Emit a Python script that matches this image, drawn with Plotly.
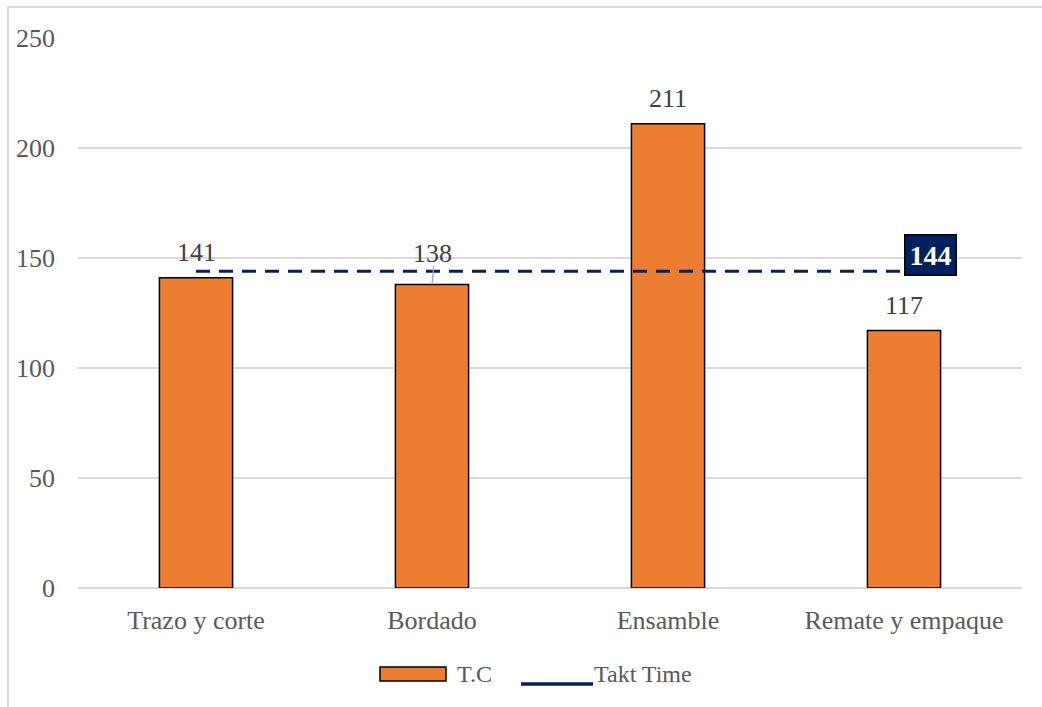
import plotly.graph_objects as go

categories = ["Trazo y corte", "Bordado", "Ensamble", "Remate y empaque"]
tc_values = [141, 138, 211, 117]
takt_value = 144
y_ticks = [0, 50, 100, 150, 200, 250]

FONT = "Liberation Serif, Times New Roman, serif"
ORANGE = "#ED7D31"
NAVY = "#002060"
GRAY_TXT = "#595959"
SIZE = 26

fig = go.Figure()

fig.add_trace(go.Bar(
    x=categories, y=tc_values, name="T.C",
    marker=dict(color=ORANGE, line=dict(color="#000000", width=1.5)),
    width=0.31, showlegend=False,
))

fig.add_trace(go.Scatter(
    x=categories, y=[takt_value] * len(categories), name="Takt Time",
    mode="lines", line=dict(color=NAVY, width=3, dash="14px,9px"), showlegend=False,
))

# value labels above each bar
for c, v in zip(categories, tc_values):
    shift = 14 if c == "Bordado" else 9
    fig.add_annotation(x=c, y=v, text=str(v), showarrow=False, yanchor="bottom",
                       yshift=shift, font=dict(family=FONT, size=SIZE, color="#404040"))
    if c == "Bordado":
        # short leader line from the moved label down to the bar
        fig.add_annotation(x=c, y=v, ax=2, ay=-20, axref="pixel", ayref="pixel",
                           showarrow=True, arrowhead=0, arrowwidth=1.2,
                           arrowcolor="#a6a6a6", text="", standoff=0)

# takt time label box at the end of the line
fig.add_annotation(x=categories[-1], y=takt_value, text="<b>144</b>", showarrow=False,
                   xanchor="left", yanchor="middle", xshift=0, yshift=16,
                   bgcolor=NAVY, bordercolor="#000000", borderwidth=1.5, borderpad=4,
                   font=dict(family=FONT, size=28, color="#ffffff"))

# outer chart border
fig.add_shape(type="rect", xref="paper", yref="paper",
              x0=-0.0742, x1=1.1, y0=-0.3, y1=1.0564,
              line=dict(color="#d9d9d9", width=2), fillcolor="rgba(0,0,0,0)",
              layer="below")

# legend drawn below the plot
fig.add_shape(type="rect", xref="paper", yref="paper",
              x0=0.3199, x1=0.3898, y0=-0.1691, y1=-0.1436,
              fillcolor=ORANGE, line=dict(color="#000000", width=1.5))
fig.add_annotation(xref="paper", yref="paper", x=0.3994, y=-0.1564, text="T.C",
                   showarrow=False, xanchor="left", yanchor="middle",
                   font=dict(family=FONT, size=24, color=GRAY_TXT))
fig.add_shape(type="line", xref="paper", yref="paper",
              x0=0.4693, x1=0.5456, y0=-0.1745, y1=-0.1745,
              line=dict(color=NAVY, width=3.5))
fig.add_annotation(xref="paper", yref="paper", x=0.5446, y=-0.1564, text="Takt Time",
                   showarrow=False, xanchor="left", yanchor="middle",
                   font=dict(family=FONT, size=24, color=GRAY_TXT))

fig.update_layout(
    width=1042, height=707,
    margin=dict(l=78, r=20, t=38, b=119),
    paper_bgcolor="#ffffff", plot_bgcolor="#ffffff",
    font=dict(family=FONT, size=SIZE, color=GRAY_TXT),
    bargap=0.69,
    showlegend=False,
    xaxis=dict(showgrid=False, showline=False, ticks="", ticklabelstandoff=14,
               tickfont=dict(size=SIZE, color=GRAY_TXT)),
    yaxis=dict(range=[0, 250], tickvals=y_ticks, showgrid=True, gridcolor="#d9d9d9",
               gridwidth=1.5, zeroline=True, zerolinecolor="#d9d9d9", zerolinewidth=1.5,
               showline=False, ticks="", ticklabelstandoff=22,
               tickfont=dict(size=SIZE, color=GRAY_TXT)),
)

fig.write_html("out.html")
